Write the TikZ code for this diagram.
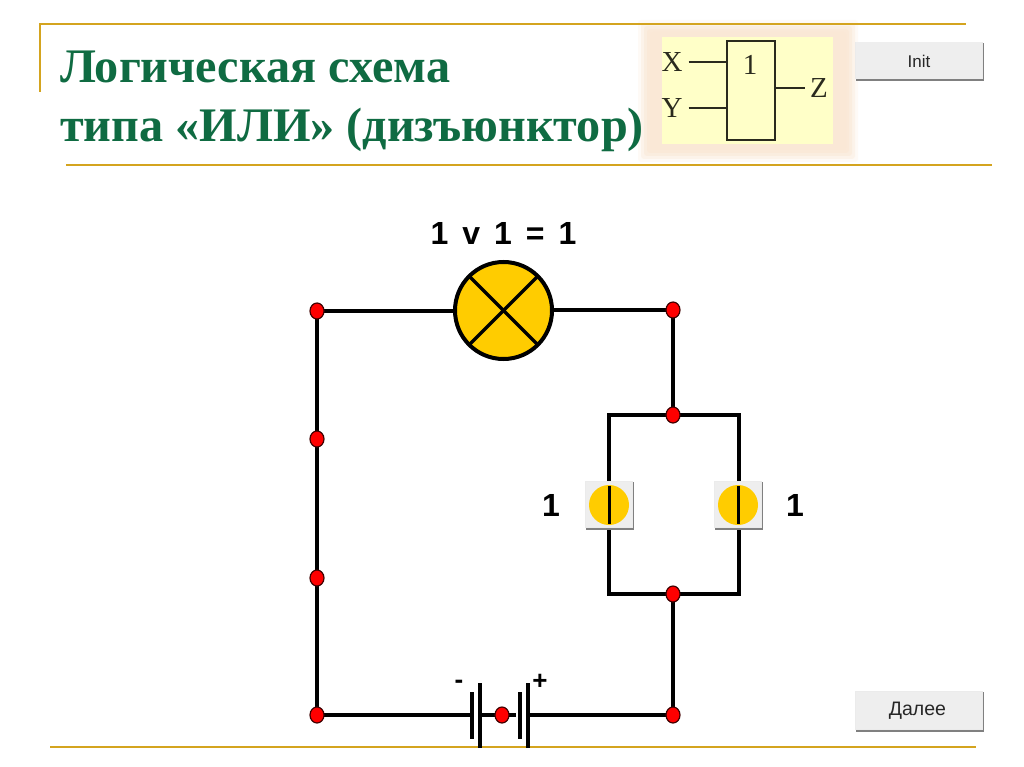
\documentclass[tikz,border=0pt]{standalone}
\usepackage{fontspec}
\setmainfont{Liberation Sans}
\newfontfamily\serifrm{Liberation Serif}
\usetikzlibrary{shapes.geometric}
\pgfdeclarelayer{wires}
\pgfsetlayers{wires,main}
\definecolor{gold}{HTML}{D4A41F}
\definecolor{titlegreen}{HTML}{0F6B42}
\definecolor{lampyellow}{HTML}{FFCC00}
\definecolor{btnface}{HTML}{EEEEEE}
\definecolor{btnshade}{HTML}{808080}
\definecolor{paleyellow}{HTML}{FFFFC8}
\definecolor{inkgray}{HTML}{2A2A1E}
\definecolor{glow}{HTML}{FAE8D6}
\tikzset{
  x=1pt,y=-1pt,
  rule/.style={draw=gold,line width=2.2pt},
  wire/.style={draw=black,line width=3.2pt},
  junction/.style={ellipse,draw=black!75!red,line width=1.2pt,fill=red,minimum width=14pt,minimum height=16pt,inner sep=0pt,outer sep=0pt},
  face/.style={rectangle,fill=btnface,draw=none,inner sep=0pt,outer sep=0pt},
  titletext/.style={font=\serifrm\bfseries\fontsize{48.2}{56}\selectfont,text=titlegreen,anchor=base west,inner sep=0pt},
  gatetext/.style={font=\serifrm\fontsize{29}{29}\selectfont,text=inkgray,inner sep=0pt},
  gateline/.style={draw=inkgray,line width=1.5pt},
  bit/.style={font=\bfseries\fontsize{32}{32}\selectfont,inner sep=0pt},
  plate/.style={draw=black,line width=3.4pt},
}
\newcommand{\pushbutton}[5]{%
  \fill[btnshade] (#1+1,#2+1) rectangle (#3+.5,#4+1.5);
  \fill[white!92!black] (#1,#2) rectangle (#3-.5,#4-.5);
  \node[face,minimum width=#3pt-#1pt-1.5pt,minimum height=#4pt-#2pt-1.5pt,anchor=north west] (#5) at (#1+.5,#2+.5) {};
}
\begin{document}
\begin{tikzpicture}
\useasboundingbox (0,0) rectangle (1024,767);
% picture frame glow
\foreach \d/\o in {0/.2,3/.35,6/.5,9/.7,12/1}{
  \fill[glow,opacity=\o,rounded corners=3pt] (638+\d,20+\d) rectangle (858-\d,162-\d);
}
\fill[paleyellow] (662,37) rectangle (833,144);
% rules
\draw[rule] (40,92) -- (40,24) -- (966,24);
\draw[rule] (66,165) -- (992,165);
\draw[rule] (50,747) -- (976,747);
% title
\node[titletext] (t1) at (60,83) {Логическая схема};
\node[titletext] (t2) at (60,142) {типа «ИЛИ» (дизъюнктор)};
% gate
\node[draw=inkgray,line width=1.5pt,rectangle,minimum width=48pt,minimum height=99pt,inner sep=0pt,outer sep=0pt] (gate) at (751,90.5) {};
\node[gatetext] (gx) at (672,62) {X};
\node[gatetext] (gy) at (672,108) {Y};
\node[gatetext] (gz) at (819,88) {Z};
\node[gatetext] (g1) at (750,65) {1};
\draw[gateline] (gx.east)+(6,0) coordinate (xs) -- (gate.west |- xs);
\draw[gateline] (gy.east)+(6,0) coordinate (ys) -- (gate.west |- ys);
\draw[gateline] (gate.east |- gz) -- ++(30,0);
% buttons
\pushbutton{855}{42}{983}{80}{initb}
\node[font=\fontsize{17}{17}\selectfont,text=black!85] (initt) at (919,61) {Init};
\pushbutton{855}{691}{983}{730}{nextb}
\node[font=\fontsize{19.5}{20}\selectfont,text=black!85] (nextt) at (917.5,710.5) {Далее};
% equation
\node[bit] (eq) at (503.5,233) {\spaceskip=14pt 1 v 1 = 1};
% lamp and junctions
\node[circle,draw=black,line width=4pt,fill=lampyellow,minimum size=97pt,inner sep=0pt,outer sep=0pt] (lamp) at (503.5,310.5) {};
\node[junction] (tl) at (317,311) {};
\node[junction] (tr) at (673,310) {};
\node[junction] (ml) at (317,439) {};
\node[junction] (ll) at (317,578) {};
\node[junction] (bl) at (317,715) {};
\node[junction] (br) at (673,715) {};
\node[junction] (pt) at (673,415) {};
\node[junction] (pb) at (673,594) {};
\node[junction] (bm) at (502,715) {};
\coordinate (ptl) at (609,415);
\coordinate (ptr) at (739,415);
\coordinate (pbl) at (609,594);
\coordinate (pbr) at (739,594);
\coordinate (pa) at (472,715);
\coordinate (pb1) at (480,715);
\coordinate (pc) at (516,715);
\coordinate (pd) at (528,715);
\begin{pgfonlayer}{wires}
\fill[white] (0,0) rectangle (1024,767);
\draw[wire] (tl) -- (lamp.west |- tl);
\draw[wire] (lamp.east |- tr) -- (tr);
\draw[wire] (tr) -- (pt);
\draw[wire] (tl) -- (ml);
\draw[wire] (ml) -- (ll);
\draw[wire] (ll) -- (bl);
\draw[wire] (bl) -- (pa);
\draw[wire] (pd) -- (br);
\draw[wire] (pb) -- (br);
\draw[wire] (pb1) -- (bm);
\draw[wire] (bm) -- (pc);
\draw[wire,line cap=rect] (ptl) -- (pt);
\draw[wire,line cap=rect] (pt) -- (ptr);
\draw[wire,line cap=rect] (pbl) -- (pb);
\draw[wire,line cap=rect] (pb) -- (pbr);
\draw[wire] (ptl) -- (pbl);
\draw[wire] (ptr) -- (pbr);
\end{pgfonlayer}
% lamp cross
\draw[line width=3.2pt] (lamp.45) -- (lamp.225);
\draw[line width=3.2pt] (lamp.135) -- (lamp.315);
% switches
\pushbutton{585}{481}{633}{528}{s1}
\pushbutton{714}{481}{762}{528}{s2}
\fill[lampyellow] (609,505) circle (20);
\fill[lampyellow] (738,505) circle (20);
\draw[line width=2.6pt] (609.5,486) -- (609.5,524);
\draw[line width=2.6pt] (738.5,486) -- (738.5,524);
\node[bit] (v1) at (551,505) {1};
\node[bit] (v2) at (795,505) {1};
% battery
\draw[plate] (472,692) -- (472,739);
\draw[plate] (480,683) -- (480,748);
\draw[plate] (520,692) -- (520,739);
\draw[plate] (528,683) -- (528,748);
\node[font=\bfseries\fontsize{26}{26}\selectfont,inner sep=0pt] (minus) at (459,684) {-};
\node[font=\bfseries\fontsize{26}{26}\selectfont,inner sep=0pt] (plus) at (540,682) {+};
\end{tikzpicture}
\end{document}
